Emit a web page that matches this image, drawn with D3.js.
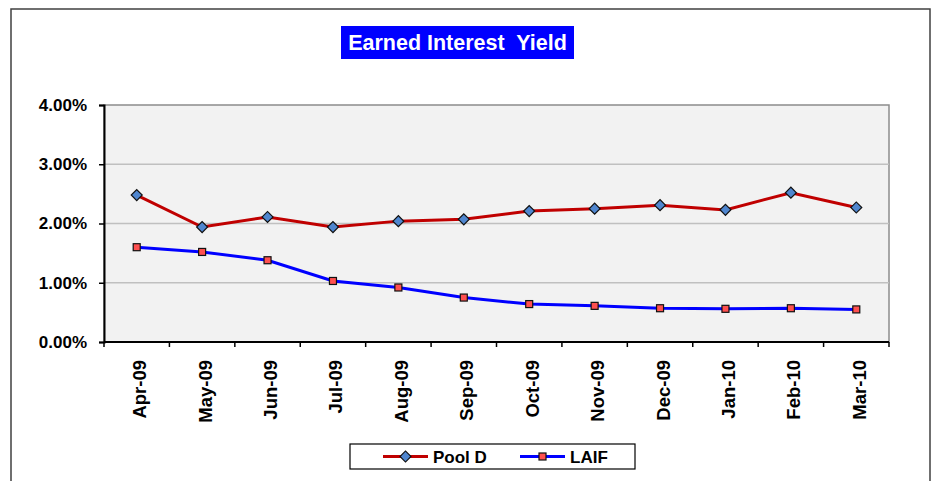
<!DOCTYPE html>
<html>
<head>
<meta charset="utf-8">
<script src="https://cdn.jsdelivr.net/npm/d3@7"></script>
<style>
  body { margin: 0; background: #fff; }
  text { font-family: Arial, "Liberation Sans", sans-serif; font-weight: bold; }
</style>
</head>
<body>
<svg width="931" height="481"></svg>
<script>
var months = ["Apr-09", "May-09", "Jun-09", "Jul-09", "Aug-09", "Sep-09",
              "Oct-09", "Nov-09", "Dec-09", "Jan-10", "Feb-10", "Mar-10"];
var poolD = [2.48, 1.94, 2.11, 1.94, 2.04, 2.07, 2.21, 2.25, 2.31, 2.23, 2.52, 2.27];
var laif = [1.60, 1.52, 1.38, 1.03, 0.92, 0.75, 0.64, 0.61, 0.57, 0.56, 0.57, 0.55];
var yTicks = [0, 1, 2, 3, 4];

var svg = d3.select("svg"),
    margin = {top: 105, right: 42, bottom: 139, left: 104},
    width = +svg.attr("width") - margin.left - margin.right,
    height = +svg.attr("height") - margin.top - margin.bottom;

// outer frame
svg.append("rect")
    .attr("x", 11).attr("y", 9)
    .attr("width", 919).attr("height", 490)
    .attr("fill", "#fff")
    .attr("stroke", "#404040")
    .attr("stroke-width", 1.5);

// title
var title = svg.append("g");
title.append("rect")
    .attr("x", 341).attr("y", 26)
    .attr("width", 233).attr("height", 33)
    .attr("fill", "#0000ff");
title.append("text")
    .attr("x", 457.5).attr("y", 50)
    .attr("text-anchor", "middle")
    .attr("fill", "#fff")
    .attr("font-size", 21.5)
    .attr("xml:space", "preserve")
    .text("Earned Interest  Yield");

var x = d3.scaleBand().domain(months).range([0, width]),
    y = d3.scaleLinear().domain([0, 4]).range([height, 0]);

var g = svg.append("g")
    .attr("transform", "translate(" + margin.left + "," + margin.top + ")");

g.append("rect")
    .attr("width", width).attr("height", height)
    .attr("fill", "#f2f2f2")
    .attr("stroke", "#8c8c8c")
    .attr("stroke-width", 1.5);

// gridlines
g.selectAll(".grid")
    .data(yTicks.slice(1, 4))
    .enter().append("line")
    .attr("x1", 0).attr("x2", width)
    .attr("y1", function(d) { return y(d); })
    .attr("y2", function(d) { return y(d); })
    .attr("stroke", "#c0c0c0")
    .attr("stroke-width", 1.5);

var yAxis = d3.axisLeft(y)
    .tickValues(yTicks)
    .tickSize(5)
    .tickPadding(12)
    .tickFormat(function(d) { return d.toFixed(2) + "%"; });

var yg = g.append("g").call(yAxis);
yg.select(".domain").attr("stroke", "#000").attr("stroke-width", 2);
yg.selectAll(".tick line").attr("stroke", "#000").attr("stroke-width", 1.5);
yg.selectAll(".tick text")
    .attr("font-size", 17)
    .attr("fill", "#000")
    .style("font-family", "Arial, 'Liberation Sans', sans-serif");

// x axis: ticks between categories
var xg = g.append("g").attr("transform", "translate(0," + height + ")");
xg.append("line")
    .attr("x1", 0).attr("x2", width)
    .attr("stroke", "#000").attr("stroke-width", 2);
xg.selectAll(".xtick")
    .data(d3.range(months.length + 1))
    .enter().append("line")
    .attr("x1", function(i) { return i * x.step(); })
    .attr("x2", function(i) { return i * x.step(); })
    .attr("y1", 0).attr("y2", 5)
    .attr("stroke", "#000").attr("stroke-width", 1.5);
xg.selectAll(".xlab")
    .data(months)
    .enter().append("text")
    .attr("transform", function(d) {
      return "translate(" + (x(d) + x.bandwidth() / 2 + 3) + ",18) rotate(-90)";
    })
    .attr("dy", "0.35em")
    .attr("text-anchor", "end")
    .attr("font-size", 18.5)
    .text(function(d) { return d; });

var line = d3.line()
    .x(function(d, i) { return x(months[i]) + x.bandwidth() / 2; })
    .y(function(d) { return y(d); });

g.append("path").datum(poolD)
    .attr("d", line)
    .attr("fill", "none")
    .attr("stroke", "#c00000")
    .attr("stroke-width", 3);

g.append("path").datum(laif)
    .attr("d", line)
    .attr("fill", "none")
    .attr("stroke", "#0000ff")
    .attr("stroke-width", 3);

var diamond = d3.symbol().type(d3.symbolSquare).size(60);

g.selectAll(".pd")
    .data(poolD)
    .enter().append("path")
    .attr("d", diamond)
    .attr("transform", function(d, i) {
      return "translate(" + (x(months[i]) + x.bandwidth() / 2) + "," + y(d) + ") rotate(45)";
    })
    .attr("fill", "#4f86cf")
    .attr("stroke", "#111")
    .attr("stroke-width", 1.2);

g.selectAll(".lf")
    .data(laif)
    .enter().append("rect")
    .attr("x", function(d, i) { return x(months[i]) + x.bandwidth() / 2 - 3.5; })
    .attr("y", function(d) { return y(d) - 3.5; })
    .attr("width", 7).attr("height", 7)
    .attr("fill", "#ff5050")
    .attr("stroke", "#111")
    .attr("stroke-width", 1.2);

// legend
var legend = svg.append("g");
legend.append("rect")
    .attr("x", 350).attr("y", 444)
    .attr("width", 285).attr("height", 25)
    .attr("fill", "#fff")
    .attr("stroke", "#000")
    .attr("stroke-width", 1.2);

legend.append("line")
    .attr("x1", 383).attr("x2", 428).attr("y1", 456.5).attr("y2", 456.5)
    .attr("stroke", "#c00000").attr("stroke-width", 3);
legend.append("path")
    .attr("d", diamond)
    .attr("transform", "translate(405.5,456.5) rotate(45)")
    .attr("fill", "#4f86cf").attr("stroke", "#111").attr("stroke-width", 1.2);
legend.append("text")
    .attr("x", 433).attr("y", 463)
    .attr("font-size", 17)
    .text("Pool D");

legend.append("line")
    .attr("x1", 520).attr("x2", 565).attr("y1", 456.5).attr("y2", 456.5)
    .attr("stroke", "#0000ff").attr("stroke-width", 3);
legend.append("rect")
    .attr("x", 539).attr("y", 453)
    .attr("width", 7).attr("height", 7)
    .attr("fill", "#ff5050").attr("stroke", "#111").attr("stroke-width", 1.2);
legend.append("text")
    .attr("x", 570).attr("y", 463)
    .attr("font-size", 17)
    .text("LAIF");
</script>
</body>
</html>
